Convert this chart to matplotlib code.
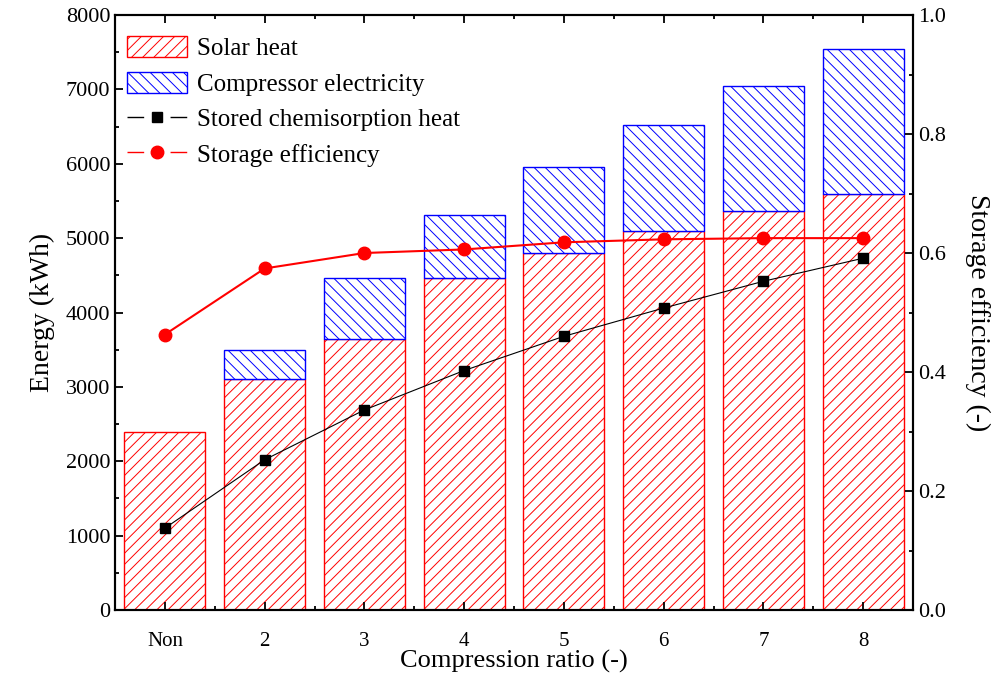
import matplotlib.pyplot as plt
import numpy as np
from matplotlib.ticker import MultipleLocator
from matplotlib.lines import Line2D

plt.rcParams['font.family'] = ['Liberation Serif', 'DejaVu Serif']
plt.rcParams['hatch.linewidth'] = 0.7

categories = ["Non", "2", "3", "4", "5", "6", "7", "8"]
solar_heat = [2390, 3110, 3650, 4460, 4800, 5100, 5360, 5600]
total_energy = [2390, 3500, 4470, 5310, 5950, 6520, 7050, 7540]
compressor = [t - s for t, s in zip(total_energy, solar_heat)]
stored_heat = [1100, 2020, 2690, 3220, 3680, 4060, 4420, 4730]
efficiency = [0.463, 0.574, 0.600, 0.606, 0.618, 0.623, 0.625, 0.625]

x = np.arange(len(categories))
comp = np.array(compressor)
has_comp = comp > 0  # no compressor bar for the "Non" case

fig = plt.figure(figsize=(10.07, 6.79), dpi=100)
ax = fig.add_axes([0.1142, 0.1016, 0.7925, 0.8763])
ax2 = ax.twinx()

b1 = ax.bar(x, solar_heat, width=0.81, facecolor='white', edgecolor='red',
            hatch='///', linewidth=1.0, label="Solar heat")
b2 = ax.bar(x[has_comp], comp[has_comp], width=0.81,
            bottom=np.array(solar_heat)[has_comp], facecolor='white',
            edgecolor='blue', hatch='\\\\\\', linewidth=1.0,
            label="Compressor electricity")
ax.plot(x, stored_heat, '-s', color='black', lw=0.8, ms=7.5)
ax2.plot(x, efficiency, '-o', color='red', lw=1.5, ms=9)

# legend proxies: line - marker - line with gaps
l1 = Line2D([], [], color='black', lw=1, ls=(0, (12, 19, 12)), marker='s',
            ms=7.5, label="Stored chemisorption heat")
l2 = Line2D([], [], color='red', lw=1, ls=(0, (12, 19, 12)), marker='o',
            ms=9, label="Storage efficiency")

ax.set_xlim(-0.5, 7.5)
ax.set_ylim(0, 8000)
ax2.set_ylim(0, 1.0)
ax.set_xticks(x)
ax.set_xticklabels(categories)
ax.set_xticks(x + 0.5, minor=True)
ax.yaxis.set_major_locator(MultipleLocator(1000))
ax.yaxis.set_minor_locator(MultipleLocator(500))
ax2.yaxis.set_major_locator(MultipleLocator(0.2))
ax2.yaxis.set_minor_locator(MultipleLocator(0.1))
ax2.yaxis.set_major_formatter(plt.FormatStrFormatter('%.1f'))

ax.tick_params(which='both', direction='in', top=True, labelsize=16, width=1.3)
ax.tick_params(axis='y', right=False)
ax.tick_params(which='major', length=6)
ax.tick_params(which='minor', length=3)
ax.tick_params(axis='x', pad=16, labelsize=15)
ax2.tick_params(which='both', direction='in', labelsize=16, width=1.3)
ax2.tick_params(which='major', length=6)
ax2.tick_params(which='minor', length=3)
for a in (ax, ax2):
    for s in a.spines.values():
        s.set_linewidth(1.5)

ax.set_xlabel("Compression ratio (-)", fontsize=19, labelpad=-1)
ax.set_ylabel("Energy (kWh)", fontsize=20, labelpad=8)
ax2.set_ylabel("Storage efficiency (-)", fontsize=20, rotation=270, labelpad=32)

ax.legend(handles=[b1, b2, l1, l2], loc='upper left', frameon=False,
          fontsize=18, handlelength=2.4, handleheight=0.92,
          handletextpad=0.4, borderaxespad=0.2, labelspacing=0.46,
          bbox_to_anchor=(-0.004, 0.99))

fig.savefig("out.png", dpi=100)
